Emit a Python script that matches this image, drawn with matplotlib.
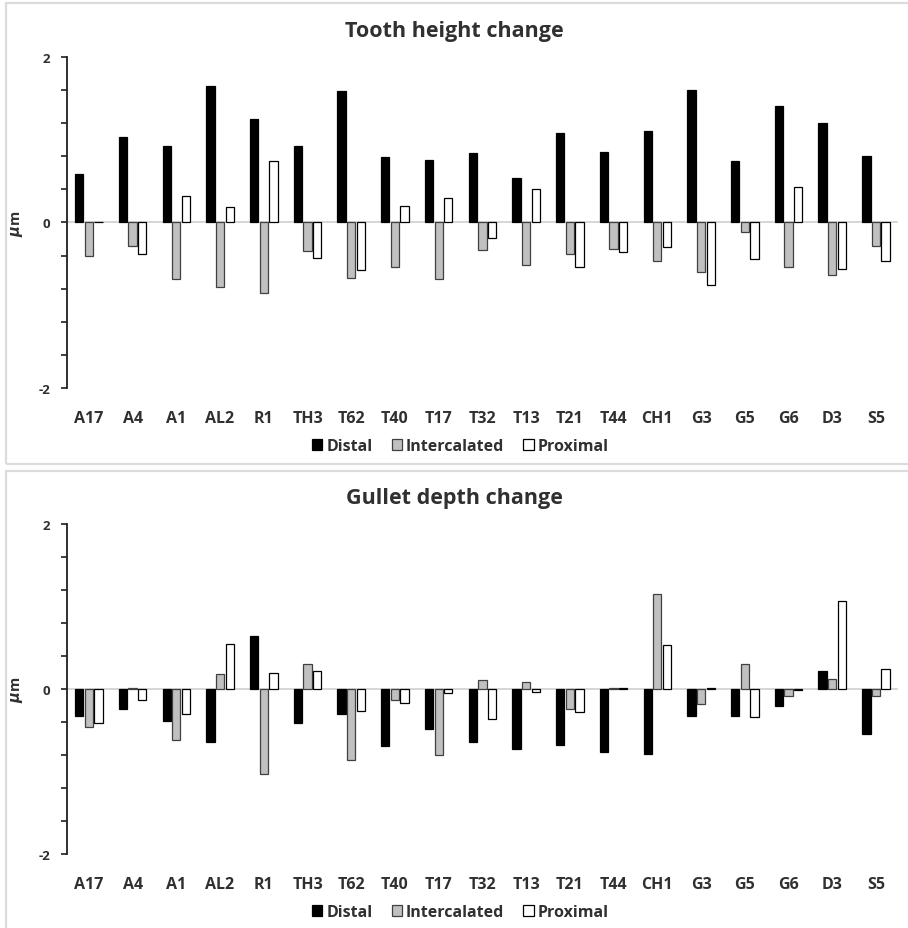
import numpy as np
import matplotlib.pyplot as plt
from matplotlib.patches import Rectangle

plt.rcParams['font.family'] = ['Open Sans', 'DejaVu Sans']
plt.rcParams['font.weight'] = 'bold'

specimens = ["A17", "A4", "A1", "AL2", "R1", "TH3", "T62", "T40", "T17", "T32",
             "T13", "T21", "T44", "CH1", "G3", "G5", "G6", "D3", "S5"]

# tooth height change (µm)
height_distal = [0.59, 1.03, 0.93, 1.65, 1.245, 0.93, 1.59, 0.795, 0.75, 0.84,
                 0.54, 1.085, 0.855, 1.10, 1.605, 0.74, 1.405, 1.205, 0.80]
height_inter = [-0.41, -0.29, -0.68, -0.775, -0.855, -0.345, -0.67, -0.54, -0.68, -0.335,
                -0.51, -0.385, -0.315, -0.465, -0.595, -0.12, -0.54, -0.64, -0.29]
height_prox = [0.01, -0.385, 0.32, 0.185, 0.74, -0.425, -0.58, 0.195, 0.295, -0.185,
               0.40, -0.535, -0.36, -0.295, -0.76, -0.445, 0.43, -0.56, -0.465]

# gullet depth change (µm)
gullet_distal = [-0.335, -0.24, -0.39, -0.645, 0.64, -0.42, -0.31, -0.695, -0.49, -0.65,
                 -0.735, -0.675, -0.77, -0.79, -0.325, -0.335, -0.205, 0.22, -0.545]
gullet_inter = [-0.46, 0.015, -0.625, 0.185, -1.03, 0.295, -0.86, -0.135, -0.805, 0.11,
                0.08, -0.245, 0.01, 1.15, -0.18, 0.30, -0.085, 0.115, -0.085]
gullet_prox = [-0.42, -0.135, -0.31, 0.545, 0.195, 0.215, -0.275, -0.17, -0.055, -0.365,
               -0.045, -0.28, 0.015, 0.525, 0.01, -0.345, -0.01, 1.065, 0.24]

series_names = ["Distal", "Intercalated", "Proximal"]
faces = ["black", "#c0c0c0", "white"]
edges = ["black", "#404040", "black"]
text_col = "#303030"

fig = plt.figure(figsize=(9.08, 9.29), dpi=100)

# panel frames
for y0, h in [(0.4995, 0.496), (-0.01, 0.502)]:
    fig.patches.append(Rectangle((0.0066, y0), 1.2, h, transform=fig.transFigure,
                                 facecolor="none", edgecolor="#dcdcdc", linewidth=1.6))


def draw_panel(rect, title, data, title_y, legend_y):
    ax = fig.add_axes(rect)
    x = np.arange(len(specimens))
    w = 0.19
    offsets = [-0.22, 0.0, 0.22]
    for vals, off, fc, ec, name in zip(data, offsets, faces, edges, series_names):
        ax.bar(x + off, vals, width=w, color=fc, edgecolor=ec, linewidth=0.9, label=name, zorder=3)
    ax.axhline(0, color="#d0d0d0", linewidth=1.2, zorder=2)
    ax.set_xlim(-0.5, len(specimens) - 0.5)
    ax.set_ylim(-2, 2)
    ticks = np.round(np.arange(-2, 2.01, 0.4), 1)
    ax.set_yticks(ticks)
    ax.set_yticklabels(["-2" if t == -2 else "0" if t == 0 else "2" if t == 2 else "" for t in ticks],
                       fontsize=9.5, fontweight="bold", color=text_col)
    ax.tick_params(axis="y", length=4, width=1.2, pad=8, color="#202020")
    ax.set_xticks(x)
    ax.set_xticklabels(specimens, fontsize=11.5, fontweight="bold", color=text_col)
    ax.tick_params(axis="x", length=0, pad=16)
    for s in ["top", "right", "bottom"]:
        ax.spines[s].set_visible(False)
    ax.spines["left"].set_linewidth(1.3)
    ax.spines["left"].set_color("#202020")
    ax.set_ylabel(r"$\mu$m", fontsize=10.5, fontweight="bold", labelpad=10, color=text_col)
    fig.text(0.5, title_y, title, ha="center", va="center", fontsize=15.5,
             fontweight="bold", color=text_col)
    ax.legend(loc="center", bbox_to_anchor=(0.507, legend_y), bbox_transform=fig.transFigure,
              ncol=3, frameon=False, prop={"size": 11.5, "weight": "bold"},
              handlelength=0.65, handleheight=0.65, handletextpad=0.25, columnspacing=1.2,
              labelcolor=text_col)
    return ax


draw_panel([0.0738, 0.5813, 0.915, 0.3563], "Tooth height change",
           [height_distal, height_inter, height_prox], 0.966, 0.519)
draw_panel([0.0738, 0.0797, 0.915, 0.3556], "Gullet depth change",
           [gullet_distal, gullet_inter, gullet_prox], 0.463, 0.017)

fig.savefig("out.png", dpi=100)
